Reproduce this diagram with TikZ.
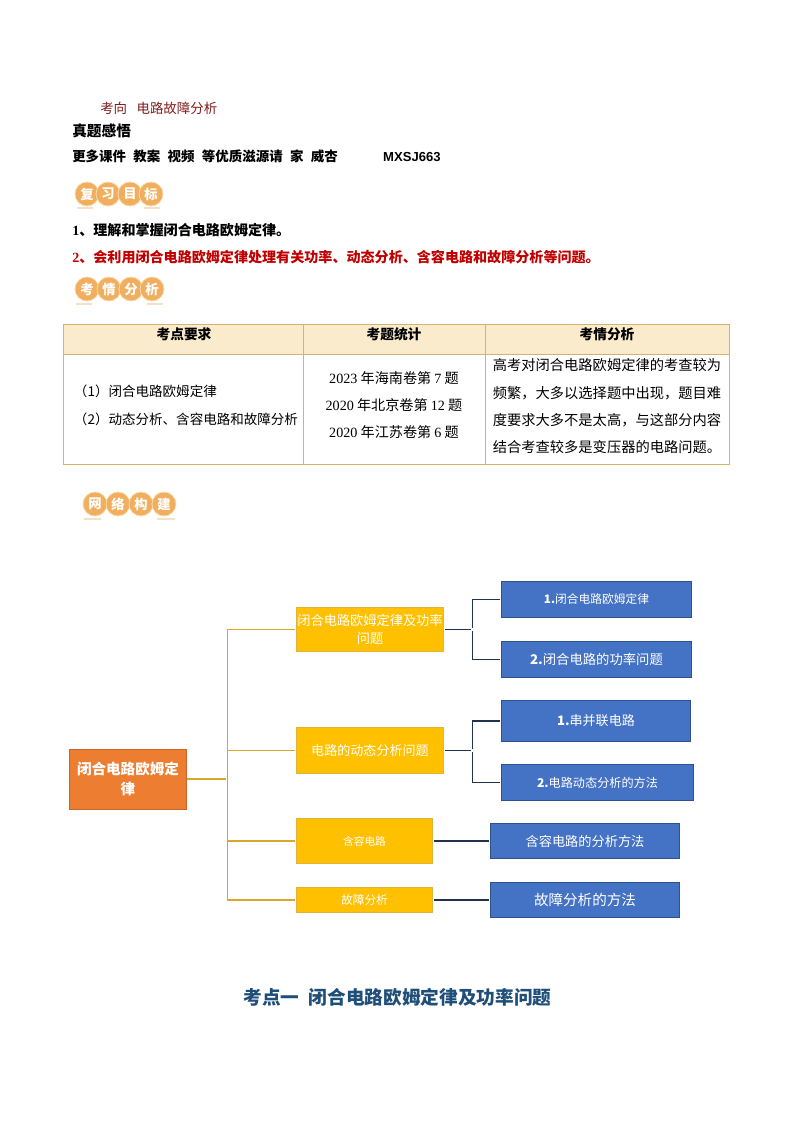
\documentclass[tikz,border=0pt]{standalone}
\usepackage{fontspec}
\setmainfont{Noto Sans CJK SC}
\newfontfamily\timesf{Liberation Serif}
\newfontfamily\arialf{Liberation Sans}
\definecolor{darkred}{HTML}{7F1D1D}
\definecolor{goalred}{HTML}{C00000}
\definecolor{titleblue}{HTML}{1F4E79}
\definecolor{headfill}{HTML}{F9EBCB}
\definecolor{tableline}{HTML}{D3B56A}
\definecolor{badgefill}{HTML}{F0AE5E}
\definecolor{badgerim}{HTML}{F9DCAE}
\definecolor{barfill}{HTML}{F6E0C4}
\definecolor{rootfill}{HTML}{ED7D31}
\definecolor{rootline}{HTML}{C9642A}
\definecolor{topicfill}{HTML}{FFC000}
\definecolor{topicline}{HTML}{E3B23C}
\definecolor{leaffill}{HTML}{4472C4}
\definecolor{leafline}{HTML}{2F528F}
\definecolor{goldline}{HTML}{D9A62E}
\definecolor{navyline}{HTML}{1F3350}
\tikzset{
  plain/.style={inner sep=0pt,anchor=west,align=left},
  cell/.style={draw=tableline,line width=0.7pt,inner sep=0pt},
  headcell/.style={cell,fill=headfill},
  celltext/.style={inner sep=0pt,align=center},
  headtext/.style={celltext,font=\fontsize{10.3}{12}\bfseries},
  badgedot/.style={circle,draw=badgerim,fill=badgefill,line width=0.6pt,minimum size=18pt,inner sep=0pt,text=white,font=\fontsize{10}{10}\bfseries},
  box/.style={inner sep=0pt,align=center,text=white,line width=0.6pt},
  rootbox/.style={box,draw=rootline,fill=rootfill},
  topicbox/.style={box,draw=topicline,fill=topicfill},
  leafbox/.style={box,draw=leafline,fill=leaffill},
  goldlink/.style={draw=goldline,line width=0.9pt,shorten >=0.8pt},
  navylink/.style={draw=navyline,line width=0.8pt,shorten >=0.8pt,shorten <=0.8pt}
}
\begin{document}
\begin{tikzpicture}[x=0.75pt,y=-0.75pt]
\useasboundingbox (0,0) rectangle (794,1123);

\node[plain,text=darkred,font=\fontsize{10.1}{12}\selectfont] (topic) at (100,108) {考向\hspace{7pt}电路故障分析};
\node[plain,font=\fontsize{11}{13}\bfseries] (realtitle) at (72,131) {真题感悟};
\node[plain,font=\fontsize{10.1}{13}\bfseries] (info) at (72,156) {更多课件\hspace{5.5pt}教案\hspace{5.5pt}视频\hspace{5.5pt}等优质滋源请\hspace{5.5pt}家\hspace{5.5pt}威杏\hspace{34pt}{\arialf\fontsize{9.8}{13}\selectfont MXSJ663}};

\foreach \x/\t in {87/复,108/习,130/目,151/标}
  \node[badgedot] (goal\x) at (\x,194) {\t};
\fill[barfill] (77,207) rectangle (93,209);
\fill[barfill] (144,207) rectangle (160,209);

\node[plain,font=\fontsize{10.55}{13}\bfseries] (goalone) at (72,230) {{\timesf 1}、理解和掌握闭合电路欧姆定律。};
\node[plain,text=goalred,font=\fontsize{10.55}{13}\bfseries] (goaltwo) at (72,257) {{\timesf 2}、会利用闭合电路欧姆定律处理有关功率、动态分析、含容电路和故障分析等问题。};

\foreach \x/\t in {87/考,109/情,131/分,152/析}
  \node[badgedot] (exam\x) at (\x,289) {\t};
\fill[barfill] (76,303) rectangle (92,305);
\fill[barfill] (147,303) rectangle (163,305);

\node[headcell,minimum width=179.5pt,minimum height=22pt] (headone) at (183.5,339.5) {};
\node[headcell,minimum width=136.5pt,minimum height=22pt] (headtwo) at (394,339.5) {};
\node[headcell,minimum width=183pt,minimum height=22pt] (headthree) at (607,339.5) {};
\node[cell,minimum width=179.5pt,minimum height=82.5pt] (cellone) at (183.5,409) {};
\node[cell,minimum width=136.5pt,minimum height=82.5pt] (celltwo) at (394,409) {};
\node[cell,minimum width=183pt,minimum height=82.5pt] (cellthree) at (607,409) {};

\node[headtext] (headonetext) at (184,334) {考点要求};
\node[headtext] (headtwotext) at (394,334) {考题统计};
\node[headtext] (headthreetext) at (607,334) {考情分析};
\node[celltext,align=left,font=\fontsize{10.15}{21}\selectfont] (cellonetext) at (186,405) {（1）闭合电路欧姆定律\\（2）动态分析、含容电路和故障分析};
\node[celltext,font=\fontsize{10.6}{20.3}\selectfont] (celltwotext) at (394,405) {{\timesf 2023} 年海南卷第 {\timesf 7} 题\\{\timesf 2020} 年北京卷第 {\timesf 12} 题\\{\timesf 2020} 年江苏卷第 {\timesf 6} 题};
\node[celltext,align=left,font=\fontsize{10.7}{20.5}\selectfont] (cellthreetext) at (607,406.5) {高考对闭合电路欧姆定律的考查较为\\频繁，大多以选择题中出现，题目难\\度要求大多不是太高，与这部分内容\\结合考查较多是变压器的电路问题。};

\foreach \x/\t in {95/网,118/络,141/构,164/建}
  \node[badgedot] (net\x) at (\x,504) {\t};
\fill[barfill] (84,518) rectangle (101,520);
\fill[barfill] (157,518) rectangle (175,520);

\node[rootbox,minimum width=88pt,minimum height=45pt,font=\fontsize{10.9}{14.5}\bfseries] (root) at (128,779) {闭合电路欧姆定\\律};

\node[topicbox,minimum width=110pt,minimum height=33pt,font=\fontsize{9.9}{13}\selectfont] (circuit) at (370,629.5) {闭合电路欧姆定律及功率\\问题};
\node[topicbox,minimum width=110pt,minimum height=34.5pt,font=\fontsize{9.8}{13}\selectfont] (dynamic) at (370,750.5) {电路的动态分析问题};
\node[topicbox,minimum width=102pt,minimum height=34pt,font=\fontsize{8}{10}\selectfont] (capacitor) at (364.5,841) {含容电路};
\node[topicbox,minimum width=102pt,minimum height=19pt,font=\fontsize{8.8}{10}\selectfont] (fault) at (364.5,900) {故障分析};

\node[leafbox,minimum width=142.5pt,minimum height=27pt,font=\fontsize{8.8}{10}\selectfont] (law) at (596.5,599.5) {{\bfseries 1.}闭合电路欧姆定律};
\node[leafbox,minimum width=142.5pt,minimum height=27pt,font=\fontsize{10}{12}\selectfont] (power) at (596.5,659.5) {{\bfseries 2.}闭合电路的功率问题};
\node[leafbox,minimum width=142pt,minimum height=31pt,font=\fontsize{9.8}{12}\selectfont] (series) at (596,721) {{\bfseries 1.}串并联电路};
\node[leafbox,minimum width=144pt,minimum height=27pt,font=\fontsize{9.1}{12}\selectfont] (method) at (597.5,782.5) {{\bfseries 2.}电路动态分析的方法};
\node[leafbox,minimum width=142pt,minimum height=26.5pt,font=\fontsize{9.9}{12}\selectfont] (capmethod) at (585,841) {含容电路的分析方法};
\node[leafbox,minimum width=142pt,minimum height=26.5pt,font=\fontsize{10.9}{13}\selectfont] (faultmethod) at (585,900) {故障分析的方法};

\coordinate (trunk) at (227.5,779);
\coordinate (forkone) at (472.5,629.5);
\coordinate (forktwo) at (472.5,750.5);

\draw[goldlink] (root.east) -- (trunk);
\draw[goldlink] (trunk) |- (circuit.west);
\draw[goldlink] (trunk) |- (dynamic.west);
\draw[goldlink] (trunk) |- (capacitor.west);
\draw[goldlink] (trunk) |- (fault.west);

\draw[navylink] (circuit.east) -- (forkone);
\draw[navylink] (forkone) |- (law.west);
\draw[navylink] (forkone) |- (power.west);
\draw[navylink] (dynamic.east) -- (forktwo);
\draw[navylink] (forktwo) |- (series.west);
\draw[navylink] (forktwo) |- (method.west);
\draw[navylink] (capacitor.east) -- (capmethod.west);
\draw[navylink] (fault.east) -- (faultmethod.west);

\node[text=titleblue,inner sep=0pt,font=\fontsize{14}{16}\bfseries] (section) at (397.5,997) {考点一\hspace{7pt}闭合电路欧姆定律及功率问题};
\end{tikzpicture}
\end{document}
